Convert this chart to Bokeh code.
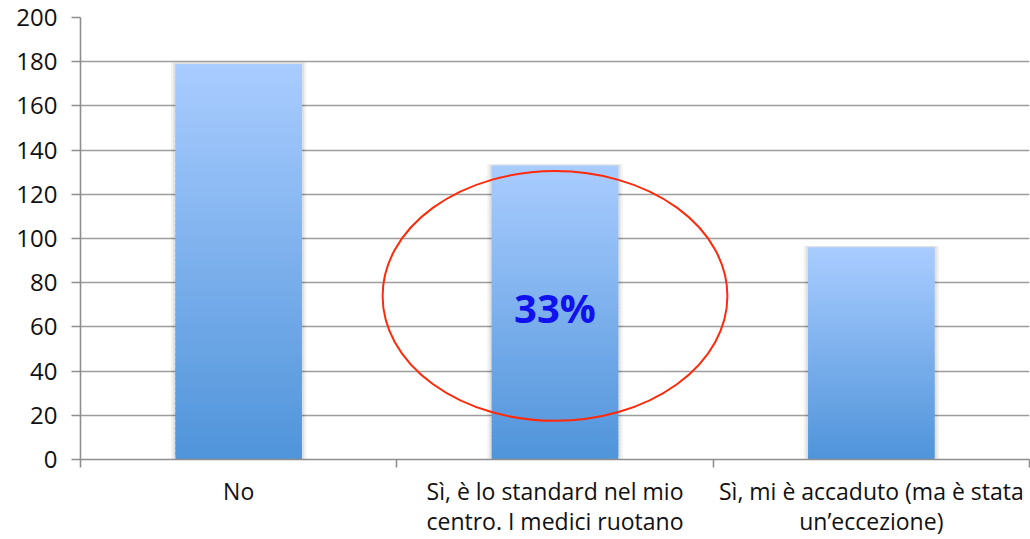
from bokeh.plotting import figure
from bokeh.models import FixedTicker, Range1d
from bokeh.core.properties import value
from bokeh.embed import file_html
from bokeh.resources import INLINE

# Survey answers and number of respondents for each
categories = [
    "No",
    "Sì, è lo standard nel mio\ncentro. I medici ruotano",
    "Sì, mi è accaduto (ma è stata\nun’eccezione)",
]
counts = [179, 133, 96]
y_ticks = [0, 20, 40, 60, 80, 100, 120, 140, 160, 180, 200]
highlight_index = 1

FONT = "Open Sans"
TOP_RGB = (169, 204, 255)
BOTTOM_RGB = (80, 148, 218)
BAR_WIDTH = 0.4
N_SLICES = 80

x_pos = [i + 0.5 for i in range(len(categories))]

p = figure(
    width=1030, height=539,
    x_range=Range1d(0, len(categories)), y_range=Range1d(0, 200),
    output_backend="svg", toolbar_location=None,
    min_border_left=80, min_border_right=1,
    min_border_top=17, min_border_bottom=79,
)
p.outline_line_color = None
p.background_fill_color = "white"
p.border_fill_color = "white"

# horizontal gridlines only
p.xgrid.visible = False
p.ygrid.ticker = FixedTicker(ticks=y_ticks)
p.ygrid.grid_line_color = "#9d9d9d"
p.ygrid.grid_line_width = 1.6

# value axis
yax = p.yaxis[0]
yax.ticker = FixedTicker(ticks=y_ticks)
yax.axis_line_color = "#8e8e8e"
yax.axis_line_width = 1.6
yax.major_tick_line_color = "#8e8e8e"
yax.major_tick_line_width = 1.6
yax.major_tick_out = 9
yax.major_tick_in = 0
yax.minor_tick_line_color = None
yax.major_label_text_font = FONT
yax.major_label_text_font_size = "24px"
yax.major_label_text_color = "#111111"
yax.major_label_standoff = 14

# category axis: labels centred, tick marks on the category boundaries
xax = p.xaxis[0]
xax.ticker = FixedTicker(ticks=x_pos, minor_ticks=list(range(len(categories) + 1)))
xax.major_label_overrides = {x: c for x, c in zip(x_pos, categories)}
xax.axis_line_color = "#8e8e8e"
xax.axis_line_width = 1.6
xax.major_tick_line_color = None
xax.minor_tick_line_color = "#8e8e8e"
xax.minor_tick_line_width = 1.6
xax.minor_tick_out = 8
xax.minor_tick_in = 0
xax.major_label_text_font = FONT
xax.major_label_text_font_size = "23px"
xax.major_label_text_color = "#111111"
xax.major_label_text_line_height = 0.95
xax.major_label_standoff = 7

# soft shadow behind each bar
for spread, alpha in ((0.014, 0.05), (0.007, 0.07)):
    p.quad(
        left=[x - BAR_WIDTH / 2 - spread for x in x_pos],
        right=[x + BAR_WIDTH / 2 + spread for x in x_pos],
        bottom=[0] * len(counts), top=[c + 0.6 for c in counts],
        fill_color="black", fill_alpha=alpha, line_color=None,
    )

# bars with a vertical gradient, built from thin horizontal slices
lefts, rights, bottoms, tops, colors = [], [], [], [], []
for x, c in zip(x_pos, counts):
    step = c / N_SLICES
    for k in range(N_SLICES):
        t = k / (N_SLICES - 1)
        rgb = tuple(round(b + (tp - b) * t) for b, tp in zip(BOTTOM_RGB, TOP_RGB))
        lefts.append(x - BAR_WIDTH / 2)
        rights.append(x + BAR_WIDTH / 2)
        bottoms.append(step * k)
        tops.append(min(c, step * (k + 1) + step * 0.6))
        colors.append("#%02x%02x%02x" % rgb)
p.quad(left=lefts, right=rights, bottom=bottoms, top=tops,
       fill_color=colors, line_color=None)

# highlighted answer: ellipse and its share of all responses
share = round(100 * counts[highlight_index] / sum(counts))
p.ellipse(x=[x_pos[highlight_index]], y=[74], width=[1.09], height=[113],
          fill_color=None, line_color="#ff2a0a", line_width=2)
p.text(x=[x_pos[highlight_index]], y=[69], text=[f"{share}%"],
       text_font=value(FONT), text_font_style="bold", text_font_size="40px",
       text_color="#1111ee", text_align="center", text_baseline="middle")

open("out.html", "w").write(file_html(p, INLINE))
